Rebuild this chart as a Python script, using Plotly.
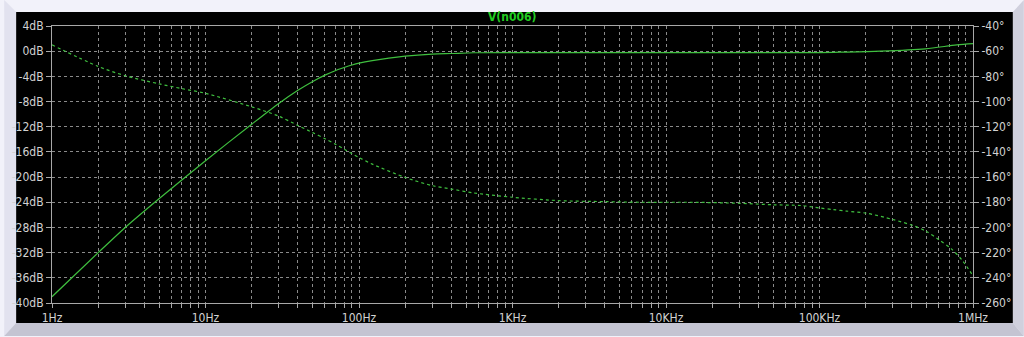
import plotly.graph_objects as go

# ---- data ----
mag_freq = [1, 2, 3, 5, 10, 20, 30, 40, 50, 60, 70, 80, 90, 100, 122, 200, 300, 400,
            560, 1000, 10000, 100000, 143000, 249000, 489000, 783000, 1000000]
mag_db = [-39.0, -32.0, -28.0, -23.4, -17.4, -11.6, -8.3, -6.2, -4.8, -3.8, -3.1, -2.6,
          -2.2, -1.9, -1.5, -0.8, -0.47, -0.37, -0.25, -0.22, -0.22, -0.22, -0.15, 0.0,
          0.37, 1.0, 1.2]

ph_freq = [1, 2, 3, 5, 7, 10, 20, 30, 40, 50, 60, 70, 80, 100, 122, 200, 300, 400, 560,
           1000, 2000, 4000, 7000, 14500, 30000, 50000, 76000, 100000, 123000, 150000,
           203000, 300000, 405000, 493000, 608000, 720000, 850000, 1000000]
ph_deg = [-55, -72.1, -79.5, -86, -89.7, -93.5, -104.2, -111.6, -119, -124.7, -129.5,
          -133.8, -137.8, -144.5, -149.7, -160.3, -166.8, -169.5, -172.6, -176, -178.7,
          -179.5, -180, -180, -180.8, -182, -182.6, -184.5, -185.8, -187, -188.7, -193.7,
          -198.4, -202.9, -210.3, -216.8, -226, -238.5]

x_tickvals = [1, 10, 100, 1000, 10000, 100000, 1000000]
x_ticktext = ["1Hz", "10Hz", "100Hz", "1KHz", "10KHz", "100KHz", "1MHz"]
db_ticks = list(range(4, -41, -4))
db_text = [f"{v}dB" for v in db_ticks]
deg_ticks = list(range(-40, -261, -20))
deg_text = [f"{v}°" for v in deg_ticks]
title_text = "V(n006)"

# ---- layout geometry ----
W, H = 1024, 337
L, R, T, B = 48, 973, 26, 304

def px(x):
    return (x - L) / (R - L)

def py(y):
    return (B - y) / (B - T)

GREEN = "#3fbf3f"
GRID = "#8a8a8a"
TXT = "#d2d2d2"
FONT = "Liberation Sans Narrow, Arial Narrow, DejaVu Sans Condensed, Liberation Sans, sans-serif"

fig = go.Figure()
fig.add_trace(go.Scatter(x=mag_freq, y=mag_db, mode="lines", yaxis="y",
                         line=dict(color=GREEN, width=1.2, shape="spline", smoothing=0.8),
                         showlegend=False, hoverinfo="skip"))
fig.add_trace(go.Scatter(x=ph_freq, y=ph_deg, mode="lines", yaxis="y2",
                         line=dict(color=GREEN, width=1.2, dash="3px,3px", shape="spline",
                                   smoothing=0.8),
                         showlegend=False, hoverinfo="skip"))

def path(points):
    s = "M " + " L ".join(f"{px(a):.5f},{py(b):.5f}" for a, b in points) + " Z"
    return s

shapes = [
    dict(type="path", xref="paper", yref="paper", layer="below", line=dict(width=0),
         fillcolor="#e2e2ef", path=path([(0, 0), (12, 12), (12, 324), (0, 337)])),
    dict(type="path", xref="paper", yref="paper", layer="below", line=dict(width=0),
         fillcolor="#d0d0dd", path=path([(1024, 0), (1013, 12), (1013, 324), (1024, 337)])),
    dict(type="path", xref="paper", yref="paper", layer="below", line=dict(width=0),
         fillcolor="#c4c4d2", path=path([(0, 337), (12, 324), (1013, 324), (1024, 337)])),
    dict(type="rect", xref="paper", yref="paper", layer="below", line=dict(width=0),
         fillcolor="#000000", x0=px(12), x1=px(1013), y0=py(324), y1=py(12)),
]

fig.update_layout(
    width=W, height=H,
    margin=dict(l=L, r=W - R, t=T, b=H - B, pad=0),
    paper_bgcolor="#f2f2fa",
    plot_bgcolor="#000000",
    font=dict(family=FONT, size=12, color=TXT),
    shapes=shapes,
    showlegend=False,
    xaxis=dict(
        type="log", range=[0, 6], tickvals=x_tickvals, ticktext=x_ticktext,
        showgrid=True, gridcolor=GRID, griddash="3px,3px", gridwidth=1,
        showline=True, linecolor="#a8a8a8", linewidth=1, mirror=True,
        ticks="outside", ticklen=4, tickcolor="#a8a8a8",
        minor=dict(tickvals=[m * 10 ** d for d in range(6) for m in range(2, 10)],
                   showgrid=True, gridcolor=GRID, griddash="3px,3px", gridwidth=1,
                   ticks="outside", ticklen=4, tickcolor="#a8a8a8"),
        zeroline=False, tickfont=dict(color=TXT, size=12, family=FONT),
    ),
    yaxis=dict(
        range=[-40, 4], tickvals=db_ticks, ticktext=db_text,
        showgrid=True, gridcolor=GRID, griddash="3px,3px", gridwidth=1,
        showline=True, linecolor="#a8a8a8", linewidth=1, mirror=True,
        ticks="outside", ticklen=5, tickcolor="#a8a8a8",
        zeroline=False, tickfont=dict(color=TXT, size=12, family=FONT),
    ),
    yaxis2=dict(
        range=[-260, -40], tickvals=deg_ticks, ticktext=deg_text,
        overlaying="y", side="right", showgrid=False,
        showline=True, linecolor="#a8a8a8", linewidth=1,
        ticks="outside", ticklen=5, tickcolor="#a8a8a8",
        zeroline=False, tickfont=dict(color=TXT, size=12, family=FONT),
    ),
    annotations=[dict(text=f"<b>{title_text}</b>", xref="paper", yref="paper", x=px(510), y=py(17),
                      xanchor="center", yanchor="middle", showarrow=False,
                      font=dict(color="#22cc22", size=12, family=FONT))],
)

fig.write_html("out.html")
